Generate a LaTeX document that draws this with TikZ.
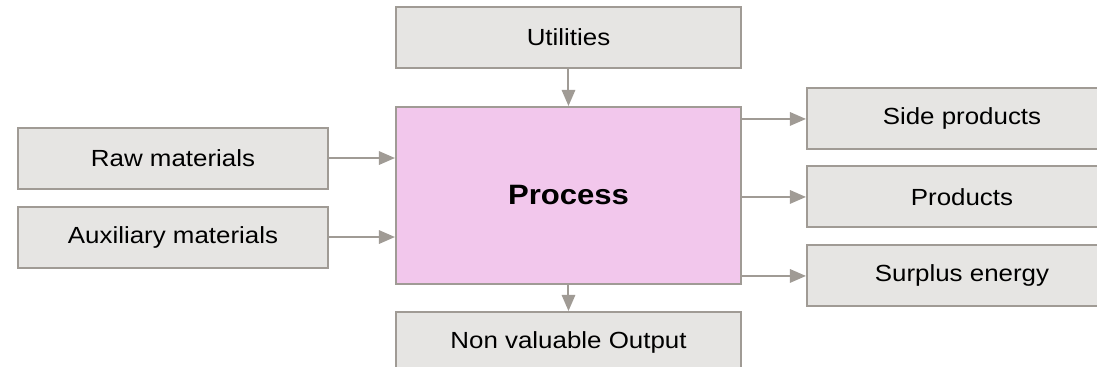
\documentclass[tikz,border=0pt]{standalone}
\usepackage{fontspec}
\setmainfont{Liberation Sans}[FakeStretch=1.11]
\usepackage{xcolor}
\usepackage{tikz}
\usetikzlibrary{positioning,arrows.meta}

\definecolor{boxgray}{RGB}{230,229,227}
\definecolor{edgegray}{RGB}{160,155,149}
\definecolor{procpink}{RGB}{242,199,236}

\begin{document}
\begin{tikzpicture}[
  font=\fontsize{17.5}{21}\selectfont,
  box/.style={draw=edgegray, fill=boxgray, line width=1.5pt, align=center,
              inner sep=0pt, minimum height=45.75pt},
  widebox/.style={box, minimum width=258.75pt},
  sidebox/.style={box, minimum width=232.5pt},
  proc/.style={box, fill=procpink, minimum width=258.75pt, minimum height=132.75pt,
               font=\fontsize{21}{25}\selectfont\bfseries},
  flow/.style={-{Triangle[length=12pt,width=10pt]}, line width=1.5pt, draw=edgegray, fill=edgegray},
]
\useasboundingbox (-426.375pt,-128.625pt) rectangle (396.375pt,146.625pt);
\node[proc] (proc) at (0,0) {Process};
\node[widebox, above=27.75pt of proc] (util) {Utilities};
\node[widebox, below=19.5pt of proc] (waste) {Non valuable Output};
\node[sidebox, left=49.5pt of proc.west, yshift=28.1pt] (raw) {Raw materials};
\node[sidebox, below=12pt of raw] (aux) {Auxiliary materials};
\node[sidebox, right=48pt of proc.east, yshift=-1.1pt] (prod) {Products};
\node[sidebox, above=11.25pt of prod] (side) {Side products};
\node[sidebox, below=12pt of prod] (surplus) {Surplus energy};
\draw[flow] (util) -- (proc);
\draw[flow] (proc) -- (waste);
\draw[flow] (raw.east) -- (raw.east -| proc.west);
\draw[flow] (aux.east) -- (aux.east -| proc.west);
\draw[flow] (side.west -| proc.east) -- (side.west);
\draw[flow] (prod.west -| proc.east) -- (prod.west);
\draw[flow] (surplus.west -| proc.east) -- (surplus.west);
\end{tikzpicture}
\end{document}
